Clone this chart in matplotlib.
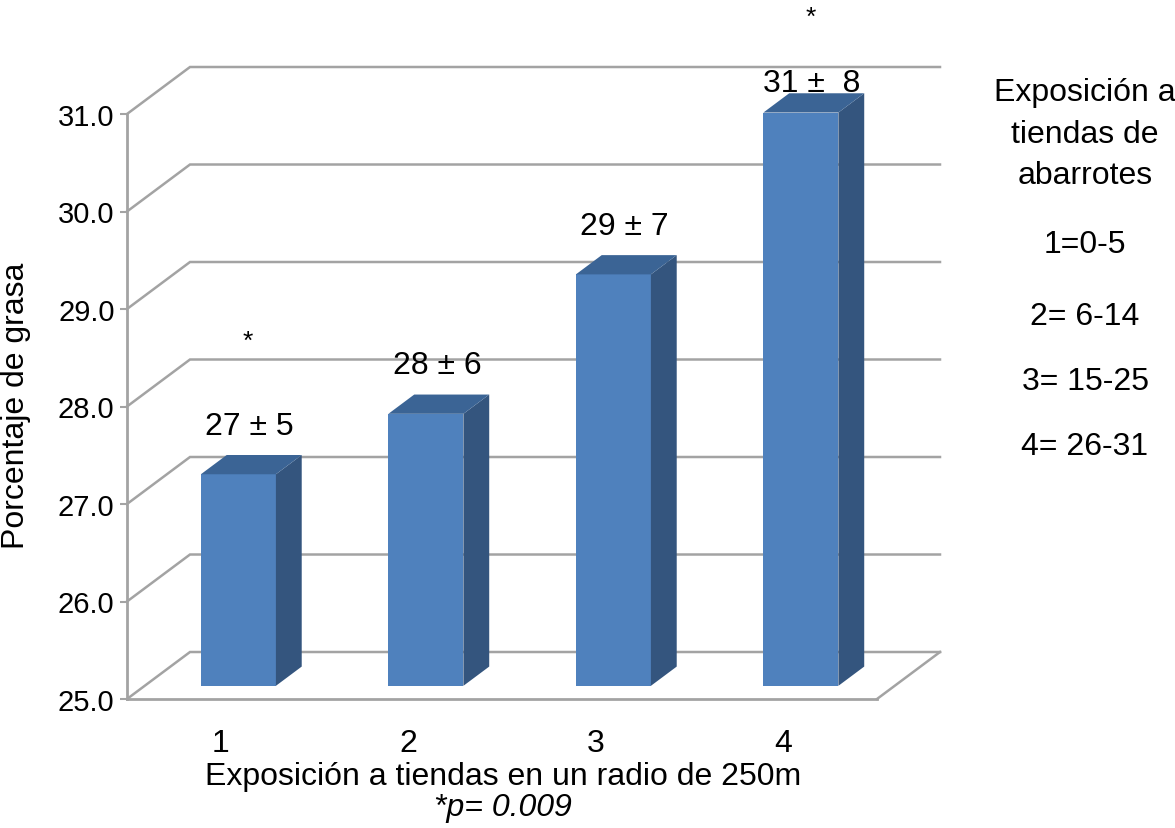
import matplotlib
matplotlib.use("Agg")
import matplotlib.pyplot as plt
from matplotlib.patches import Polygon

# ---- data ----
categories = ["1", "2", "3", "4"]
values = [27.17, 27.79, 29.22, 30.88]
labels = ["27 ± 5", "28 ± 6", "29 ± 7", "31 ±  8"]
significant = [True, False, False, True]
yticks = [25.0, 26.0, 27.0, 28.0, 29.0, 30.0, 31.0]
ylabel = "Porcentaje de grasa"
xlabel = "Exposición a tiendas en un radio de 250m"
pnote = "*p= 0.009"
legend_title = "Exposición a\ntiendas de\nabarrotes"
legend_items = ["1=0-5", "2= 6-14", "3= 15-25", "4= 26-31"]

# ---- style ----
plt.rcParams['font.family'] = ['Liberation Sans', 'DejaVu Sans']
W, H, DPI = 1175, 829, 100
FS = 23
FS_TICK = 21
GRID = '#a3a3a3'
FRONT, SIDE, TOP = '#4f81bd', '#34557e', '#3b6495'
DX, DY = 0.336, 0.482          # full depth offset (x in categories, y in value units)
F0, F1 = 0.28, 0.69            # bar depth span (fraction of full depth)
BW = 0.4                       # bar width
YMIN, YMAX = yticks[0], yticks[-1]
XMIN, XMAX = 0.5, len(categories) + 0.5

fig = plt.figure(figsize=(W / DPI, H / DPI), dpi=DPI)
ax = fig.add_axes([127 / W, (H - 700) / H, 750 / W, 585 / H])
ax.set_xlim(XMIN, XMAX)
ax.set_ylim(YMIN, YMAX)
ax.patch.set_visible(False)

for s in ['top', 'right']:
    ax.spines[s].set_visible(False)
for s in ['left', 'bottom']:
    ax.spines[s].set_color(GRID)
    ax.spines[s].set_linewidth(2)
ax.set_yticks(yticks)
ax.set_yticklabels([f"{t:.1f}" for t in yticks], fontsize=FS_TICK)
ax.tick_params(axis='y', length=5, width=1.5, color=GRID, pad=4)
xs = list(range(1, len(categories) + 1))
ax.set_xticks(xs)
ax.set_xticklabels(categories, fontsize=FS)
ax.tick_params(axis='x', length=0, pad=21)

# back wall gridlines and floor
for t in yticks:
    ax.plot([XMIN, XMIN + DX, XMAX + DX], [t, t + DY, t + DY], color=GRID, lw=1.8,
            clip_on=False, zorder=1, solid_joinstyle='miter')
ax.plot([XMAX, XMAX + DX], [YMIN, YMIN + DY], color=GRID, lw=1.8, clip_on=False, zorder=1)

# 3D bars
for x, v, lab, sig in zip(xs, values, labels, significant):
    x0 = x - BW / 2 + F0 * DX
    x1 = x + BW / 2 + F0 * DX
    b0 = YMIN + F0 * DY
    t0 = v + F0 * DY
    ddx = (F1 - F0) * DX
    ddy = (F1 - F0) * DY
    front = Polygon([(x0, b0), (x1, b0), (x1, t0), (x0, t0)], closed=True,
                    facecolor=FRONT, edgecolor='none', zorder=3, clip_on=False)
    side = Polygon([(x1, b0), (x1 + ddx, b0 + ddy), (x1 + ddx, t0 + ddy), (x1, t0)],
                   closed=True, facecolor=SIDE, edgecolor='none', zorder=3, clip_on=False)
    top = Polygon([(x0, t0), (x1, t0), (x1 + ddx, t0 + ddy), (x0 + ddx, t0 + ddy)],
                  closed=True, facecolor=TOP, edgecolor='none', zorder=3, clip_on=False)
    for p in (front, side, top):
        ax.add_patch(p)
    ly = min(t0 + 0.5, YMAX + 0.32)
    lx = x + F0 * DX + 0.06
    ax.text(lx, ly, lab, fontsize=FS, ha='center', va='center', zorder=5, clip_on=False)
    if sig:
        sy = min(ly + 0.8, YMAX + 0.92)
        ax.text(lx - 0.01, sy, "*", fontsize=FS - 4, ha='center', va='baseline',
                zorder=5, clip_on=False)

# axis titles
fig.text(16 / W, 1 - 406 / H, ylabel, rotation=90, fontsize=FS, ha='center', va='center')
fig.text(503 / W, 1 - 777 / H, xlabel, fontsize=FS, ha='center', va='center')
fig.text(503 / W, 1 - 808 / H, pnote, fontsize=FS, ha='center', va='center', style='italic')

# right-side legend text
fig.text(1085 / W, 1 - 135 / H, legend_title, fontsize=FS, ha='center', va='center',
         linespacing=1.5, multialignment='center')
leg_y = [245, 317, 382, 447]
for yy, item in zip(leg_y, legend_items):
    fig.text(1085 / W, 1 - yy / H, item, fontsize=FS, ha='center', va='center')

fig.savefig("out.png", dpi=DPI)
